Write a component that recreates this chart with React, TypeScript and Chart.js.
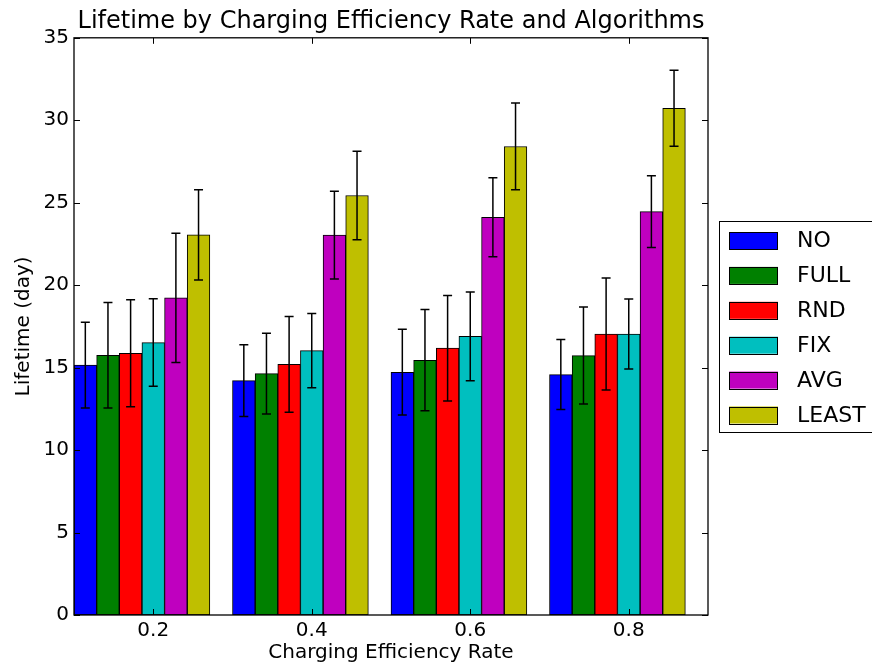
import { useEffect, useRef } from "react";
import { Chart, registerables } from "chart.js";

Chart.register(...registerables);

const categories = ["0.2", "0.4", "0.6", "0.8"];
const seriesNames = ["NO", "FULL", "RND", "FIX", "AVG", "LEAST"];
const seriesColors = ["#0000ff", "#008000", "#ff0000", "#00bfbf", "#bf00bf", "#bfbf00"];

const noValues = [15.15, 14.21, 14.72, 14.58];
const fullValues = [15.75, 14.64, 15.45, 15.73];
const rndValues = [15.87, 15.2, 16.18, 17.04];
const fixValues = [16.52, 16.03, 16.9, 17.04];
const avgValues = [19.23, 23.03, 24.12, 24.46];
const leastValues = [23.05, 25.44, 28.41, 30.73];

const noErrors = [2.6, 2.17, 2.6, 2.12];
const fullErrors = [3.2, 2.45, 3.07, 2.94];
const rndErrors = [3.24, 2.9, 3.2, 3.4];
const fixErrors = [2.65, 2.25, 2.69, 2.12];
const avgErrors = [3.92, 2.66, 2.4, 2.17];
const leastErrors = [2.73, 2.68, 2.63, 2.3];

const seriesValues = [noValues, fullValues, rndValues, fixValues, avgValues, leastValues];
const seriesErrors = [noErrors, fullErrors, rndErrors, fixErrors, avgErrors, leastErrors];

const FONT = "'DejaVu Sans', sans-serif";

const errorBarPlugin = {
  id: "errorBars",
  afterDatasetsDraw(chart: any) {
    const ctx = chart.ctx;
    const y = chart.scales.y;
    ctx.save();
    ctx.strokeStyle = "#000";
    ctx.lineWidth = 1.5;
    seriesValues.forEach((vals, i) => {
      const meta = chart.getDatasetMeta(i);
      vals.forEach((v, j) => {
        const bar = meta.data[j];
        if (!bar) return;
        const e = seriesErrors[i][j];
        const x = bar.x;
        const yt = y.getPixelForValue(v + e);
        const yb = y.getPixelForValue(v - e);
        ctx.beginPath();
        ctx.moveTo(x, yt);
        ctx.lineTo(x, yb);
        ctx.moveTo(x - 4.5, yt);
        ctx.lineTo(x + 4.5, yt);
        ctx.moveTo(x - 4.5, yb);
        ctx.lineTo(x + 4.5, yb);
        ctx.stroke();
      });
    });
    ctx.restore();
  },
};

const framePlugin = {
  id: "frame",
  afterDraw(chart: any) {
    const ctx = chart.ctx;
    const { left, right, top, bottom } = chart.chartArea;
    const x = chart.scales.x;
    const y = chart.scales.y;
    ctx.save();
    ctx.strokeStyle = "#000";
    ctx.lineWidth = 1;
    ctx.beginPath();
    y.ticks.forEach((t: any) => {
      const py = Math.round(y.getPixelForValue(t.value)) + 0.5;
      ctx.moveTo(left, py);
      ctx.lineTo(left + 6, py);
      ctx.moveTo(right, py);
      ctx.lineTo(right - 6, py);
    });
    categories.forEach((_, i) => {
      const px = Math.round(x.getPixelForValue(i)) + 0.5;
      ctx.moveTo(px, bottom);
      ctx.lineTo(px, bottom - 6);
      ctx.moveTo(px, top);
      ctx.lineTo(px, top + 6);
    });
    ctx.stroke();
    ctx.lineWidth = 1.3;
    ctx.strokeRect(left, top, right - left, bottom - top);

    // legend
    const lx = 719;
    const ly = 221;
    ctx.fillStyle = "#fff";
    ctx.fillRect(lx, ly, 200, 211);
    ctx.lineWidth = 1;
    ctx.strokeRect(lx + 0.5, ly + 0.5, 200, 211);
    ctx.font = `22px ${FONT}`;
    ctx.textBaseline = "middle";
    ctx.textAlign = "left";
    seriesNames.forEach((name, i) => {
      const cy = 240.5 + i * 34.9;
      ctx.fillStyle = seriesColors[i];
      ctx.fillRect(729, cy - 8.5, 49, 17);
      ctx.strokeStyle = "#000";
      ctx.strokeRect(729.5, Math.round(cy - 8.5) + 0.5, 48, 17);
      ctx.fillStyle = "#000";
      ctx.fillText(name, 797, cy + 1);
    });
    ctx.restore();
  },
};

export default function App() {
  const canvasRef = useRef<HTMLCanvasElement | null>(null);

  useEffect(() => {
    if (!canvasRef.current) return;
    const datasets: any[] = seriesNames.map((name, i) => ({
      label: name,
      data: seriesValues[i],
      backgroundColor: seriesColors[i],
      borderColor: "#000",
      borderWidth: 1,
      borderSkipped: false,
      categoryPercentage: 1,
      barPercentage: 1,
    }));
    datasets.push({
      label: "",
      data: categories.map(() => null),
      backgroundColor: "transparent",
      borderWidth: 0,
      categoryPercentage: 1,
      barPercentage: 1,
    });

    const chart = new Chart(canvasRef.current, {
      type: "bar",
      data: { labels: categories, datasets },
      options: {
        animation: false,
        responsive: true,
        maintainAspectRatio: false,
        events: [],
        layout: { padding: { left: 0, right: 164, top: 0, bottom: 0 } },
        plugins: {
          legend: { display: false },
          tooltip: { enabled: false },
          title: {
            display: true,
            fullSize: false,
            text: "Lifetime by Charging Efficiency Rate and Algorithms",
            color: "#000",
            font: { family: FONT, size: 24, weight: "normal" },
            padding: { top: 7, bottom: 2 },
          },
        },
        scales: {
          x: {
            type: "category",
            offset: true,
            grid: { display: false, drawTicks: false },
            border: { display: false },
            ticks: { color: "#000", font: { family: FONT, size: 20 }, padding: 4, maxRotation: 0 },
            title: {
              display: true,
              text: "Charging Efficiency Rate",
              color: "#000",
              font: { family: FONT, size: 20 },
              padding: { top: 0, bottom: 3 },
            },
            afterFit: (scale: any) => {
              scale.height = 53;
            },
          },
          y: {
            min: 0,
            max: 35,
            grid: { display: false, drawTicks: false },
            border: { display: false },
            ticks: { stepSize: 5, color: "#000", font: { family: FONT, size: 20 }, padding: 5 },
            title: {
              display: true,
              text: "Lifetime (day)",
              color: "#000",
              font: { family: FONT, size: 20 },
              padding: { top: 12, bottom: 0 },
            },
            afterFit: (scale: any) => {
              scale.width = 74;
            },
          },
        },
      },
      plugins: [errorBarPlugin, framePlugin],
    });
    return () => chart.destroy();
  }, []);

  return (
    <div style={{ position: "absolute", left: 0, top: 0, width: 872, height: 668, background: "#fff" }}>
      <canvas ref={canvasRef} />
    </div>
  );
}
